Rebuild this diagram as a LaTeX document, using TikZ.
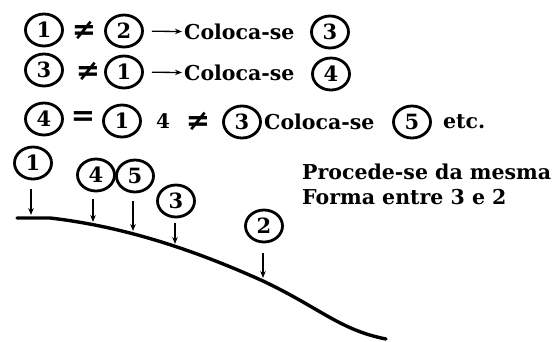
\documentclass[tikz,border=0pt]{standalone}
\usepackage{fontspec}
\setmainfont{DejaVu Serif}
\newfontfamily\symf{DejaVu Sans}
\usetikzlibrary{arrows.meta,shapes.geometric}
\tikzset{
  num/.style={draw, ellipse, line width=2.8pt, minimum width=37pt, minimum height=32pt, inner sep=0pt,
    font=\bfseries\fontsize{21}{21}\selectfont},
  txt/.style={inner sep=0pt, font=\bfseries\fontsize{20.5}{20.5}\selectfont},
  sym/.style={inner sep=0pt, font=\symf\bfseries\fontsize{29}{29}\selectfont},
  arr/.style={-{Stealth[length=7pt,width=5.5pt]}, line width=1.3pt},
  drop/.style={-{Stealth[length=7pt,width=5.5pt]}, line width=1.4pt},
  ground/.style={line width=3.4pt, line cap=round}
}
\begin{document}
\begin{tikzpicture}[x=1pt,y=-1pt]
\useasboundingbox (0,0) rectangle (557,341);
% row 1
\node[num] (a1) at (44,30) {1};
\node[sym] (ne1) at (84,30) {≠};
\node[num] (a2) at (124,31) {2};
\node[txt, anchor=west] (t1) at (184,32) {Coloca-se};
\node[num] (a3) at (330,32) {3};
\draw[arr, shorten <=8pt, shorten >=2pt] (a2) -- (t1);
% row 2
\node[num] (b3) at (44,70) {3};
\node[sym] (ne2) at (88,71) {≠};
\node[num] (b1) at (124,72) {1};
\node[txt, anchor=west] (t2) at (184,73) {Coloca-se};
\node[num] (b4) at (331,74) {4};
\draw[arr, shorten <=8pt, shorten >=2pt] (b1) -- (t2);
% row 3
\node[num] (c4) at (44,119) {4};
\node[sym] (eq) at (83,119) {=};
\node[num] (c1) at (122,121) {1};
\node[txt, font=\bfseries\fontsize{20}{20}\selectfont] (n4) at (163,121) {4};
\node[sym] (ne3) at (198,121) {≠};
\node[num] (c3) at (242,122) {3};
\node[txt, anchor=west] (t3) at (264,122) {Coloca-se};
\node[num] (c5) at (412,122) {5};
\node[txt, anchor=west] (etc) at (443,122) {etc.};
% note
\node[txt, anchor=west] (p1) at (302,172) {Procede-se da mesma};
\node[txt, anchor=west] (p2) at (302,197) {Forma entre 3 e 2};
% ground
\draw[ground] (17,218) -- (50,218) .. controls (120,226) and (190,248) .. (263,281)
  .. controls (320,308) and (340,330) .. (386,339);
% bottom markers
\node[num] (d1) at (33,163) {1};
\node[num] (d4) at (96,175) {4};
\node[num] (d5) at (135,176) {5};
\node[num] (d3) at (176,201) {3};
\node[num] (d2) at (264,226) {2};
\coordinate (e1) at (31,215);
\coordinate (e4) at (93,222);
\coordinate (e5) at (133,231);
\coordinate (e3) at (175,244);
\coordinate (e2) at (263,278);
\draw[drop] ([yshift=-9pt]d1.south -| e1) -- (e1);
\draw[drop] ([yshift=-7pt]d4.south -| e4) -- (e4);
\draw[drop] ([yshift=-8pt]d5.south -| e5) -- (e5);
\draw[drop] ([yshift=-5pt]d3.south -| e3) -- (e3);
\draw[drop] ([yshift=-10pt]d2.south -| e2) -- (e2);
\end{tikzpicture}
\end{document}
